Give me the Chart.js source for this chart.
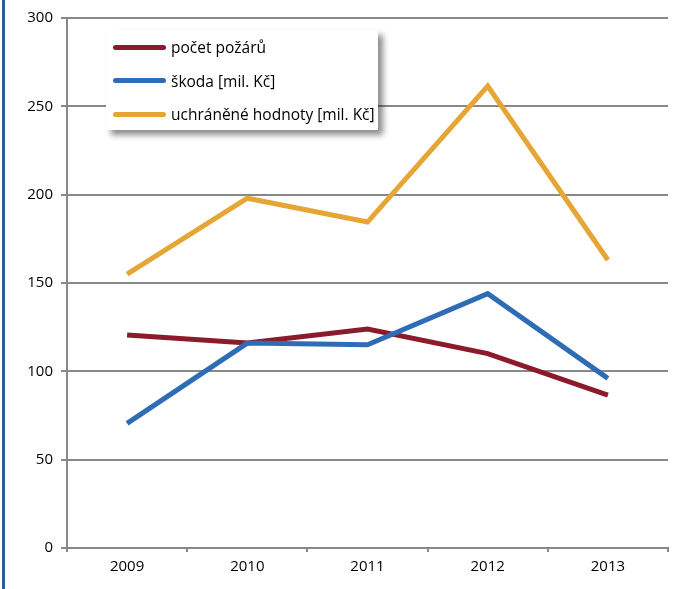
<!DOCTYPE html>
<html>
<head>
<meta charset="utf-8">
<script src="https://cdn.jsdelivr.net/npm/chart.js@4.4.0/dist/chart.umd.min.js"></script>
<style>
  html, body { margin: 0; padding: 0; background: #fff; }
  #wrap { position: relative; width: 673px; height: 589px; }
  #leftBar { position: absolute; left: 2px; top: 0; width: 3px; height: 589px; background: #2f5c99; }
  #legend {
    position: absolute; left: 106px; top: 30px; width: 272px; height: 100px;
    background: #fff; box-shadow: 5px 5px 6px rgba(0,0,0,0.45);
    font-family: "Open Sans", sans-serif; font-size: 15.5px; color: #000;
  }
  .item { position: absolute; left: 7px; height: 20px; display: flex; align-items: center; white-space: nowrap; }
  .swatch { width: 53px; height: 5px; border-radius: 3px; margin-right: 5px; }
</style>
</head>
<body>
<div id="wrap">
  <canvas id="chart" width="673" height="589"></canvas>
  <div id="leftBar"></div>
  <div id="legend"></div>
</div>
<script>
const years = ['2009', '2010', '2011', '2012', '2013'];
const pocetPozaru = [120.5, 116, 124, 110, 86.5];
const skoda = [70.5, 116, 115, 144, 96];
const uchraneneHodnoty = [155, 198, 184.5, 261.5, 163];
const seriesNames = ['počet požárů', 'škoda [mil. Kč]', 'uchráněné hodnoty [mil. Kč]'];
const seriesColors = ['#8b1a2b', '#2e6cb5', '#e5a635'];

const datasets = [pocetPozaru, skoda, uchraneneHodnoty].map((data, i) => ({
    label: seriesNames[i],
    data: data,
    borderColor: seriesColors[i],
    backgroundColor: seriesColors[i],
    borderWidth: 5,
    pointRadius: 0,
    tension: 0,
    fill: false
}));

// html legend, built from the datasets
const legendBox = document.getElementById('legend');
datasets.forEach((ds, i) => {
    const row = document.createElement('div');
    row.className = 'item';
    row.style.top = (7 + i * 33.5) + 'px';
    row.innerHTML = `<div class="swatch" style="background:${ds.borderColor}"></div><span>${ds.label}</span>`;
    legendBox.appendChild(row);
});

const ctx = document.getElementById('chart').getContext('2d');
new Chart(ctx, {
    type: 'line',
    data: { labels: years, datasets: datasets.slice().reverse() },
    options: {
        responsive: false,
        animation: false,
        layout: { padding: { left: 0, right: 5, top: 18, bottom: 0 } },
        plugins: { legend: { display: false }, tooltip: { enabled: false } },
        scales: {
            x: {
                offset: true,
                afterFit: s => { s.height = 41; },
                grid: { offset: true, drawOnChartArea: false, color: '#888', lineWidth: 2, tickLength: 4 },
                border: { color: '#888', width: 2 },
                ticks: { color: '#000', font: { family: 'Open Sans', size: 15 }, padding: 6 }
            },
            y: {
                min: 0,
                max: 300,
                afterFit: s => { s.width = 67; },
                ticks: { stepSize: 50, color: '#000', font: { family: 'Open Sans', size: 15 }, padding: 8 },
                grid: { color: '#888', lineWidth: 2, tickLength: 6 },
                border: { color: '#888', width: 2 }
            }
        }
    }
});
</script>
</body>
</html>
